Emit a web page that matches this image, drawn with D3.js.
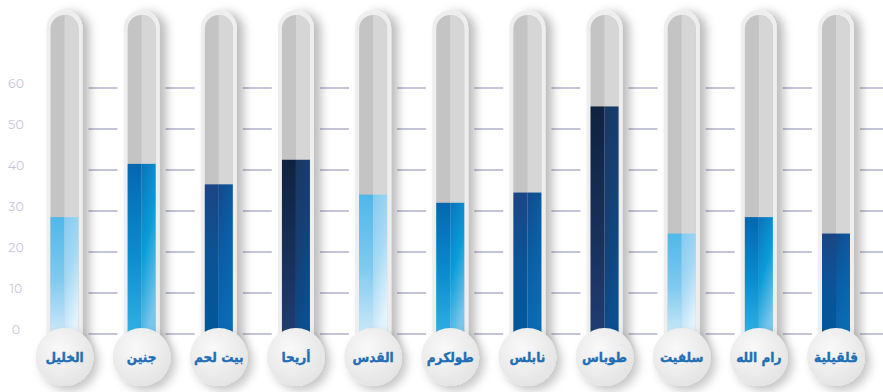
<!DOCTYPE html>
<html>
<head>
<meta charset="utf-8">
<script src="https://cdn.jsdelivr.net/npm/d3@7/dist/d3.min.js"></script>
<style>
  html, body { margin: 0; padding: 0; background: #ffffff; }
  svg { display: block; }
</style>
</head>
<body>
<div id="chart"></div>
<script>
// Governorates and their values
const categories = ["الخليل", "جنين", "بيت لحم", "أريحا", "القدس", "طولكرم", "نابلس", "طوباس", "سلفيت", "رام الله", "قلقيلية"];
const values = [28.5, 41.5, 36.5, 42.5, 34, 32, 34.5, 55.5, 24.5, 28.5, 24.5];
const yTicks = [0, 10, 20, 30, 40, 50, 60];

// Four fill styles that repeat along the row of tubes
const fillStyles = [
  { left: ["#4fb7ea", "#7fc9ef", "#d3ecf9"], right: ["#84cbf0", "#a6d9f4", "#e3f3fc"] },
  { left: ["#0467b0", "#0a8bcd", "#33b3e6"], right: ["#0a73bc", "#0a9cd8", "#78c6eb"] },
  { left: ["#1c4585", "#0a5496", "#00589c"], right: ["#124a8c", "#0a5fa6", "#0a6cb3"] },
  { left: ["#0f2340", "#172f58", "#1f3e75"], right: ["#1a3963", "#163f74", "#0b4f8f"] }
];

const W = 883, H = 392;
const svg = d3.select("#chart").append("svg").attr("width", W).attr("height", H);
const defs = svg.append("defs");

const x = d3.scalePoint().domain(categories).range([64.5, 836]);
const y = d3.scaleLinear().domain([0, 60]).range([334, 88]);

const innerR = 14, outerR = 18;
const tubeTop = 15, outerTop = 10;
const bulbY = 357, bulbR = 29;

// Shadows
const capShadow = defs.append("filter").attr("id", "capShadow")
  .attr("x", "-50%").attr("y", "-10%").attr("width", "220%").attr("height", "120%");
capShadow.append("feDropShadow").attr("dx", 7).attr("dy", 2).attr("stdDeviation", 5)
  .attr("flood-color", "#000").attr("flood-opacity", 0.26);
const bulbShadow = defs.append("filter").attr("id", "bulbShadow")
  .attr("x", "-50%").attr("y", "-50%").attr("width", "200%").attr("height", "200%");
bulbShadow.append("feDropShadow").attr("dx", 5).attr("dy", 5).attr("stdDeviation", 5)
  .attr("flood-color", "#000").attr("flood-opacity", 0.22);

// Bulb gradient
const bg = defs.append("radialGradient").attr("id", "bulbGrad")
  .attr("cx", "40%").attr("cy", "35%").attr("r", "70%");
bg.append("stop").attr("offset", "0%").attr("stop-color", "#f9f9f9");
bg.append("stop").attr("offset", "100%").attr("stop-color", "#e3e3e3");

// Bar gradients
fillStyles.forEach((s, i) => {
  ["left", "right"].forEach(side => {
    const g = defs.append("linearGradient").attr("id", `g${i}${side}`)
      .attr("x1", 0).attr("y1", 0).attr("x2", side === "right" ? 0.35 : 0).attr("y2", 1);
    s[side].forEach((c, k) => g.append("stop").attr("offset", k / (s[side].length - 1)).attr("stop-color", c));
  });
});

// Capsule path with rounded top
function capsule(cx, top, bottom, r) {
  return `M${cx - r},${bottom} L${cx - r},${top + r} A${r},${r} 0 0 1 ${cx + r},${top + r} L${cx + r},${bottom} Z`;
}

// Tick marks to the right of each tube
const tickG = svg.append("g");
categories.forEach(c => {
  tickG.selectAll(null).data(yTicks).join("line")
    .attr("x1", x(c) + 24).attr("x2", x(c) + 53)
    .attr("y1", d => y(d)).attr("y2", d => y(d))
    .attr("stroke", "#c4c4d8").attr("stroke-width", 2);
});

// Y axis labels
svg.append("g").selectAll("text").data(yTicks).join("text")
  .attr("x", 16).attr("y", d => y(d) - 0.5)
  .attr("text-anchor", "middle")
  .attr("font-family", "Montserrat, 'Open Sans', Lato, sans-serif")
  .attr("font-size", 12.5)
  .attr("fill", "#c6c6dc")
  .text(d => d);

// Tubes
const tubes = svg.append("g").selectAll("g").data(categories).join("g");

tubes.append("path")
  .attr("d", d => capsule(x(d), outerTop, bulbY, outerR))
  .attr("fill", "#eeeeee")
  .attr("filter", "url(#capShadow)");

tubes.append("path")
  .attr("d", d => capsule(x(d), tubeTop, bulbY, innerR))
  .attr("fill", "#c4c4c4");
tubes.append("path")
  .attr("d", d => `M${x(d)},${tubeTop} A${innerR},${innerR} 0 0 1 ${x(d) + innerR},${tubeTop + innerR} L${x(d) + innerR},${bulbY} L${x(d)},${bulbY} Z`)
  .attr("fill", "#d6d6d6");

// Bars (two halves)
tubes.append("rect")
  .attr("x", d => x(d) - innerR)
  .attr("y", (d, i) => y(values[i]))
  .attr("width", innerR)
  .attr("height", (d, i) => y(0) - y(values[i]) + 6)
  .attr("fill", (d, i) => `url(#g${i % 4}left)`);
tubes.append("rect")
  .attr("x", d => x(d))
  .attr("y", (d, i) => y(values[i]))
  .attr("width", innerR)
  .attr("height", (d, i) => y(0) - y(values[i]) + 6)
  .attr("fill", (d, i) => `url(#g${i % 4}right)`);

// Bulbs with labels
tubes.append("circle")
  .attr("cx", d => x(d)).attr("cy", bulbY).attr("r", bulbR)
  .attr("fill", "url(#bulbGrad)")
  .attr("filter", "url(#bulbShadow)");

tubes.append("text")
  .attr("x", d => x(d)).attr("y", bulbY + 5)
  .attr("text-anchor", "middle")
  .attr("font-family", "'DejaVu Sans Condensed', 'DejaVu Sans', sans-serif")
  .attr("font-weight", "bold")
  .attr("font-size", 13.5)
  .attr("fill", "#1f6eb6")
  .attr("stroke", "#1f6eb6")
  .attr("stroke-width", 0.35)
  .text(d => d);
</script>
</body>
</html>
